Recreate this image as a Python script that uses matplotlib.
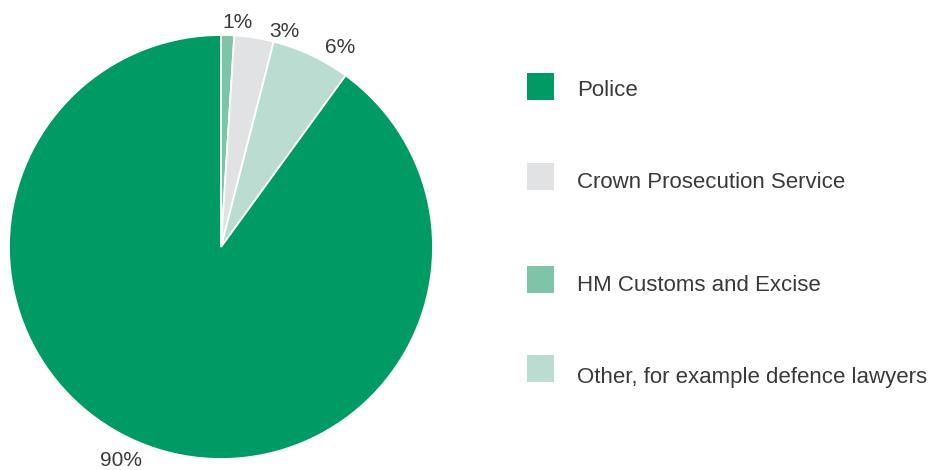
import numpy as np
import matplotlib.pyplot as plt
from matplotlib.patches import Rectangle

plt.rcParams['font.family'] = ['Liberation Sans', 'DejaVu Sans']

# share of requests by source, clockwise from 12 o'clock
sources = ['HM Customs and Excise', 'Crown Prosecution Service',
           'Other, for example defence lawyers', 'Police']
shares = [1, 3, 6, 90]
colors = ['#7dc4a9', '#e1e2e4', '#bbdcd0', '#009b65']

legend_order = ['Police', 'Crown Prosecution Service',
                'HM Customs and Excise', 'Other, for example defence lawyers']

W, H = 937, 470
fig = plt.figure(figsize=(W / 100, H / 100), dpi=100)
ax = fig.add_axes([9 / W, 11 / H, 424 / W, 424 / H])

wedges, _ = ax.pie(shares, colors=colors, startangle=90, counterclock=False,
                   radius=1, wedgeprops=dict(edgecolor='white', linewidth=1.3))
ax.set_xlim(-1, 1)
ax.set_ylim(-1, 1)
ax.set_aspect('equal')
ax.axis('off')

# percentage labels just outside the rim (clockwise nudge in degrees, radius)
nudge = [-2.5, -7.5, -5.7, -7.1]
rad = [1.064, 1.058, 1.094, 1.11]
for w, s, dn, r in zip(wedges, shares, nudge, rad):
    mid = np.deg2rad((w.theta1 + w.theta2) / 2 + dn)
    ax.text(r * np.cos(mid), r * np.sin(mid), f'{s}%', ha='center', va='center',
            fontsize=15, color='#3a3a3a', clip_on=False)

# legend drawn by hand with uneven row spacing (square top, text baseline)
box_top = [73, 163, 266, 355]
text_base = [96, 188, 291, 383]
col = dict(zip(sources, colors))
for name, bt, tb in zip(legend_order, box_top, text_base):
    fig.add_artist(Rectangle((527 / W, 1 - (bt + 27) / H), 27 / W, 27 / H,
                             transform=fig.transFigure, facecolor=col[name],
                             edgecolor='none'))
    fig.text(577 / W, 1 - tb / H, name, ha='left', va='baseline',
             fontsize=16, color='#3a3a3a')

fig.savefig('out.png', dpi=100)
